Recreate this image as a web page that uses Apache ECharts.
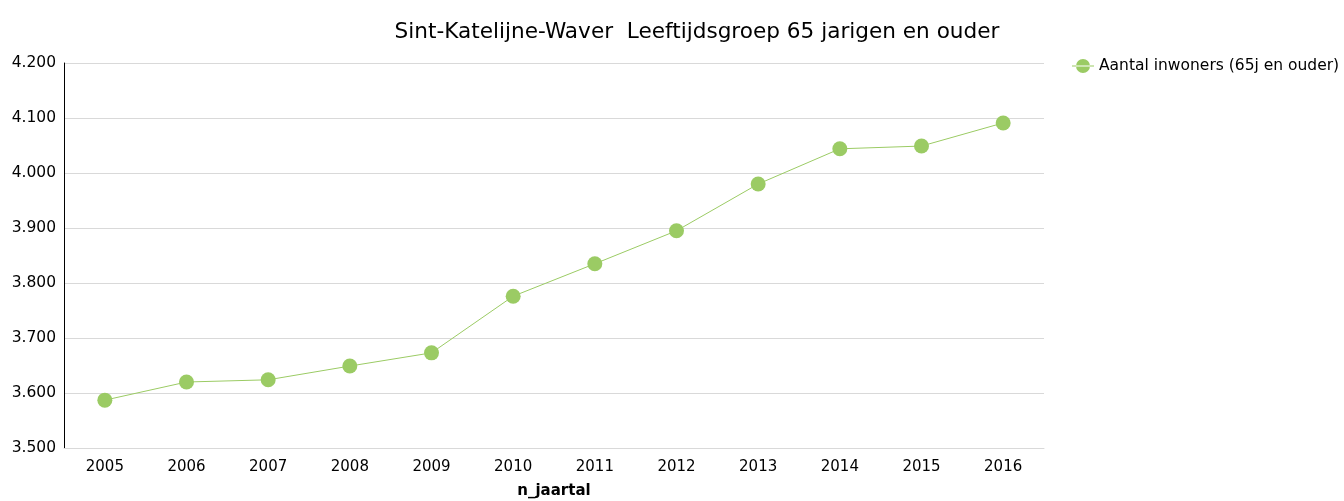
<!DOCTYPE html>
<html>
<head>
<meta charset="utf-8">
<script src="https://cdn.jsdelivr.net/npm/echarts@6/dist/echarts.min.js"></script>
<style>
  html, body { margin: 0; padding: 0; background: #fff; }
  #chart { width: 1344px; height: 501px; }
</style>
</head>
<body>
<div id="chart"></div>
<script>
// jaartallen en aantal inwoners 65+
const years = ['2005', '2006', '2007', '2008', '2009', '2010', '2011', '2012', '2013', '2014', '2015', '2016']
const inwoners = [3587, 3620, 3624, 3649, 3673, 3776, 3835, 3895, 3980, 4044, 4049, 4091]
const seriesName = 'Aantal inwoners (65j en ouder)'

const font = 'DejaVu Sans, Verdana, sans-serif'
const green = '#9bcb64'

const chart = echarts.init(document.getElementById('chart'))
chart.setOption({
  animation: false,
  textStyle: { fontFamily: font },
  title: {
    text: 'Sint-Katelijne-Waver  Leeftijdsgroep 65 jarigen en ouder',
    left: 692,
    textAlign: 'center',
    top: 16,
    textStyle: {
      fontFamily: font,
      fontSize: 21.6,
      fontWeight: 'normal',
      color: '#000'
    }
  },
  legend: {
    left: 1067,
    top: 53,
    itemWidth: 22,
    itemHeight: 14,
    itemGap: 6,
    icon: 'path://M0,6.5h22v1h-22Z M4,7a7,7 0 1,0 14,0a7,7 0 1,0 -14,0Z',
    data: [seriesName],
    textStyle: { fontFamily: font, fontSize: 15.5, color: '#000' }
  },
  grid: {
    left: 64,
    right: 300,
    top: 63,
    bottom: 53,
    containLabel: false,
    outerBoundsMode: 'none'
  },
  xAxis: {
    type: 'category',
    data: years,
    boundaryGap: true,
    name: 'n_jaartal',
    nameLocation: 'middle',
    nameGap: 36,
    nameTextStyle: { fontFamily: font, fontSize: 15, fontWeight: 'bold', color: '#000' },
    axisLine: { lineStyle: { color: '#d9d9d9' } },
    axisTick: { show: false },
    axisLabel: { fontFamily: font, fontSize: 15, color: '#000', margin: 12 }
  },
  yAxis: {
    type: 'value',
    min: 3500,
    max: 4200,
    interval: 100,
    axisLine: { show: true, lineStyle: { color: '#000', width: 1 } },
    axisTick: { show: false },
    splitLine: { lineStyle: { color: '#d9d9d9' } },
    axisLabel: {
      fontFamily: font,
      fontSize: 15.5,
      color: '#000',
      margin: 8,
      formatter: v => (v / 1000).toFixed(3)
    }
  },
  series: [
    {
      name: seriesName,
      type: 'line',
      data: inwoners,
      symbol: 'circle',
      symbolSize: 15,
      itemStyle: { color: green },
      lineStyle: { color: green, width: 1 }
    }
  ]
})
</script>
</body>
</html>
